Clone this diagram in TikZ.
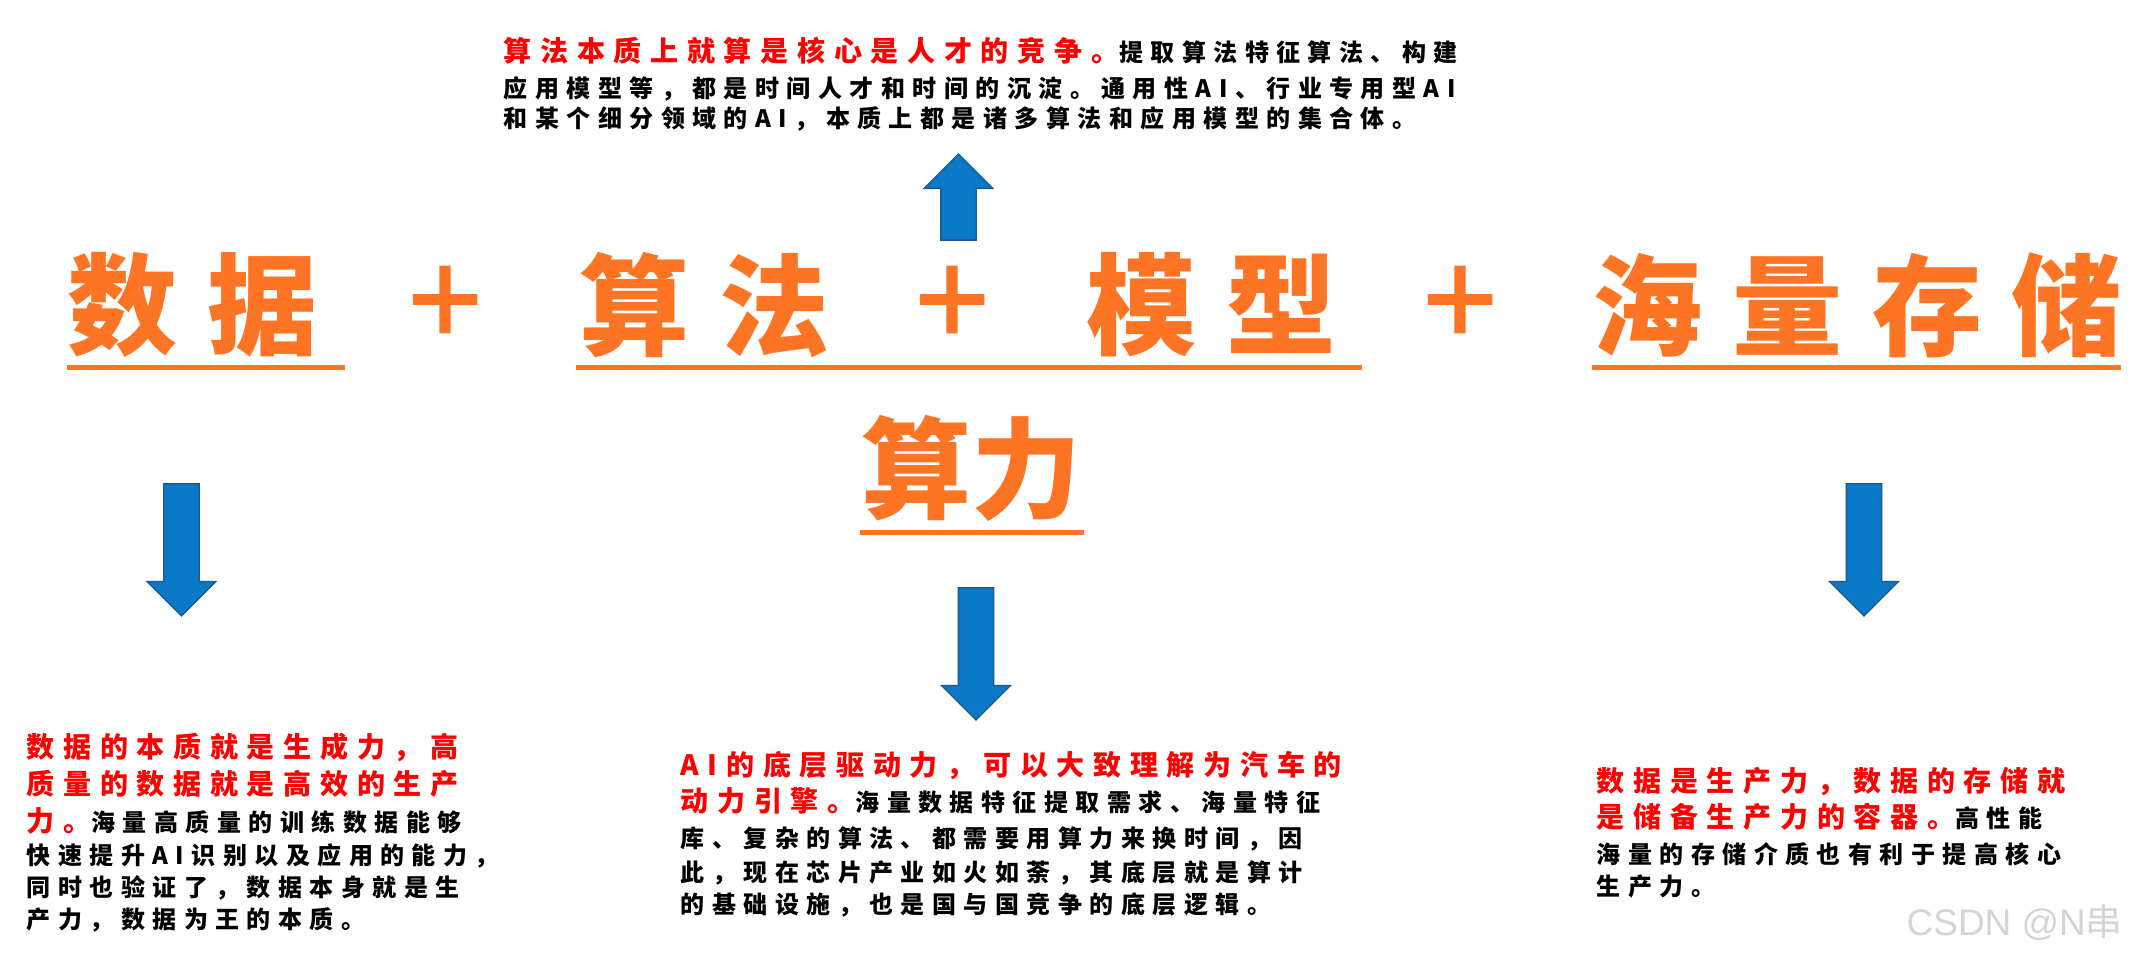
\documentclass[tikz,border=0pt]{standalone}
\usepackage{fontspec}
\usetikzlibrary{positioning, shapes.arrows}
\newfontfamily\titlefont[LetterSpace=27]{Noto Sans CJK SC}
\newfontfamily\plainfont{Noto Sans CJK SC}
\newfontfamily\plusfont[FakeBold=1.5]{Noto Sans CJK SC}
\newfontfamily\bodyfont[LetterSpace=31]{Noto Sans CJK SC}
\newfontfamily\markfont{Liberation Sans}
\definecolor{titleorange}{RGB}{252,116,36}
\definecolor{keyred}{RGB}{255,0,0}
\definecolor{arrowblue}{RGB}{10,121,199}
\definecolor{arrowedge}{RGB}{28,88,150}
\definecolor{markgray}{RGB}{212,212,212}
\newcommand{\keytext}[1]{{\color{keyred}\fontsize{7.97pt}{9.1pt}\selectfont #1}}
\tikzset{
  titleword/.style  = {inner sep=0pt, anchor=west, text=titleorange,
                       font=\titlefont\bfseries\fontsize{31.3pt}{36pt}\selectfont},
  plussign/.style   = {inner sep=0pt, text=titleorange,
                       font=\plusfont\fontsize{37pt}{40pt}\selectfont},
  underline/.style  = {-, draw=titleorange, line width=1.45pt},
  notebox/.style    = {inner sep=0pt, anchor=north west, align=left,
                       font=\bodyfont\bfseries\fontsize{6.83pt}{9.1pt}\selectfont},
  blockarrow/.style = {single arrow, draw=arrowedge, fill=arrowblue, line width=0.4pt,
                       inner xsep=0pt, inner ysep=0.17cm,
                       single arrow head extend=0.165cm},
}

\begin{document}
\begin{tikzpicture}[x=0.01cm, y=-0.01cm]
    \useasboundingbox (0,0) rectangle (2134,958);
    % formula row
    \node[titleword] (data) at (67,305) {数据};
    \node[plussign] (plusa) at (445,307) {+};
    \node[titleword] (algo) at (579,305) {算法};
    \node[plussign] (plusb) at (952,307) {+};
    \node[titleword] (model) at (1086,305) {模型};
    \node[plussign] (plusc) at (1460,307) {+};
    \node[titleword] (store) at (1592,305) {海量存储};
    \node[titleword, font=\plainfont\bfseries\fontsize{31.3pt}{36pt}\selectfont] (power) at (861,468) {算力};
    \draw[underline] (67,367.5) -- (345,367.5);
    \draw[underline] (576,367.5) -- (1362,367.5);
    \draw[underline] (1592,367.5) -- (2121,367.5);
    \draw[underline] (860,532.5) -- (1084,532.5);
    % arrows
    \node[blockarrow, rotate=90, minimum height=0.86cm] (algoarrow) at (958.5,206) {};
    \node[blockarrow, rotate=-90, minimum height=1.32cm] (dataarrow) at (181.5,541) {};
    \node[blockarrow, rotate=-90, minimum height=1.32cm] (powerarrow) at (976,645) {};
    \node[blockarrow, rotate=-90, minimum height=1.32cm] (storearrow) at (1864,541) {};
    % notes
    \node[notebox, font=\bodyfont\bfseries\fontsize{6.83pt}{8.54pt}\selectfont] (algonote) at (503,37)
      {\keytext{算法本质上就算是核心是人才的竞争。}提取算法特征算法、构建\\[1.5pt]
       应用模型等，都是时间人才和时间的沉淀。通用性AI、行业专用型AI\\
       和某个细分领域的AI，本质上都是诸多算法和应用模型的集合体。};
    \node[notebox] (datanote) at (26,732)
      {\keytext{数据的本质就是生成力，高}\\[1.4pt]
       \keytext{质量的数据就是高效的生产}\\[1.4pt]
       \keytext{力。}海量高质量的训练数据能够\\[0.3pt]
       快速提升AI识别以及应用的能力，\\
       同时也验证了，数据本身就是生\\
       产力，数据为王的本质。};
    \node[notebox] (powernote) at (680,750)
      {\keytext{AI的底层驱动力，可以大致理解为汽车的}\\[1.4pt]
       \keytext{动力引擎。}海量数据特征提取需求、海量特征\\[1.1pt]
       库、复杂的算法、都需要用算力来换时间，因\\[0.6pt]
       此，现在芯片产业如火如荼，其底层就是算计\\
       的基础设施，也是国与国竞争的底层逻辑。};
    \node[notebox] (storenote) at (1596,767)
      {\keytext{数据是生产力，数据的存储就}\\[1.1pt]
       \keytext{是储备生产力的容器。}高性能\\[1.1pt]
       海量的存储介质也有利于提高核心\\
       生产力。};
    \node[anchor=west, inner sep=0pt, text=markgray,
          font=\markfont\fontsize{10.5pt}{12pt}\selectfont] (mark) at (1906,923)
      {CSDN @N{\plainfont 串}};
\end{tikzpicture}
\end{document}
